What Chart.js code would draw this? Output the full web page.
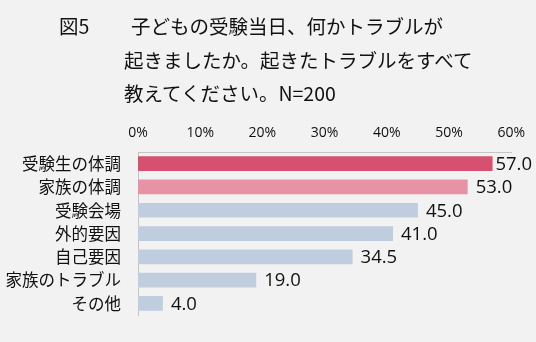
<!doctype html>
<html>
<head>
    <meta charset="utf-8">
    <title>図5</title>
    <script src="https://cdn.jsdelivr.net/npm/chart.js"></script>
    <style>
        body {
            margin: 0;
            background-color: #f2f2f2;
            font-family: "Noto Sans CJK JP", sans-serif;
        }

        #wrap {
            position: relative;
            width: 536px;
            height: 342px;
            overflow: hidden;
        }

        #chart-box {
            position: absolute;
            left: 0;
            top: 0;
            width: 536px;
            height: 342px;
        }

        .title {
            position: absolute;
            font-size: 19.5px;
            line-height: 20px;
            color: #111;
            white-space: nowrap;
        }
    </style>
</head>
<body>
    <div id="wrap">
        <div id="chart-box"><canvas id="troubleChart"></canvas></div>
        <div class="title" style="left:59px; top:16px;">図5</div>
        <div class="title" style="left:131px; top:16px;">子どもの受験当日、何かトラブルが</div>
        <div class="title" style="left:124px; top:50px;">起きましたか。起きたトラブルをすべて</div>
        <div class="title" style="left:124px; top:83px;">教えてください。N=200</div>
    </div>

    <script>
        const categories = ['受験生の体調', '家族の体調', '受験会場', '外的要因', '自己要因', '家族のトラブル', 'その他'];
        const values = [57.0, 53.0, 45.0, 41.0, 34.5, 19.0, 4.0];
        const tickLabels = ['0%', '10%', '20%', '30%', '40%', '50%', '60%'];
        const barColors = ['#d6506f', '#e892a6', '#bfcddf', '#bfcddf', '#bfcddf', '#bfcddf', '#bfcddf'];

        // value labels to the right of each bar
        const valueLabels = {
            id: 'valueLabels',
            afterDatasetsDraw(chart) {
                const ctx = chart.ctx;
                const meta = chart.getDatasetMeta(0);
                ctx.save();
                ctx.font = '18.5px "Open Sans"';
                ctx.fillStyle = '#111';
                ctx.textBaseline = 'middle';
                meta.data.forEach((bar, i) => {
                    const text = values[i].toFixed(1);
                    const w = ctx.measureText(text).width;
                    let x = bar.x + 8;
                    if (x + w > chart.width - 4) x = chart.width - 4 - w;
                    ctx.fillText(text, x, bar.y + 1);
                });
                ctx.restore();
            }
        };

        new Chart(document.getElementById('troubleChart'), {
            type: 'bar',
            data: {
                labels: categories,
                datasets: [{
                    data: values,
                    backgroundColor: barColors,
                    borderWidth: 0,
                    categoryPercentage: 0.9,
                    barPercentage: 0.7
                }]
            },
            options: {
                indexAxis: 'y',
                responsive: true,
                maintainAspectRatio: false,
                animation: false,
                layout: {
                    padding: { left: 0, right: 23, top: 0, bottom: 24 }
                },
                plugins: {
                    legend: { display: false },
                    tooltip: { enabled: false }
                },
                scales: {
                    x: {
                        position: 'top',
                        min: 0,
                        max: 60,
                        afterFit(scale) { scale.height = 152; },
                        grid: { display: false, drawTicks: false },
                        border: { display: true, color: '#c4c4c4', width: 1 },
                        ticks: {
                            stepSize: 10,
                            padding: 11,
                            color: '#111',
                            font: { family: 'Open Sans', size: 14 },
                            callback: (v) => tickLabels[v / 10]
                        }
                    },
                    y: {
                        afterFit(scale) { scale.width = 138; },
                        grid: { display: false, drawTicks: false },
                        border: { display: true, color: '#c4c4c4', width: 1 },
                        ticks: {
                            padding: 17,
                            color: '#111',
                            font: { family: 'Noto Sans CJK JP', size: 16.5 }
                        }
                    }
                }
            },
            plugins: [valueLabels]
        });
    </script>
</body>
</html>
